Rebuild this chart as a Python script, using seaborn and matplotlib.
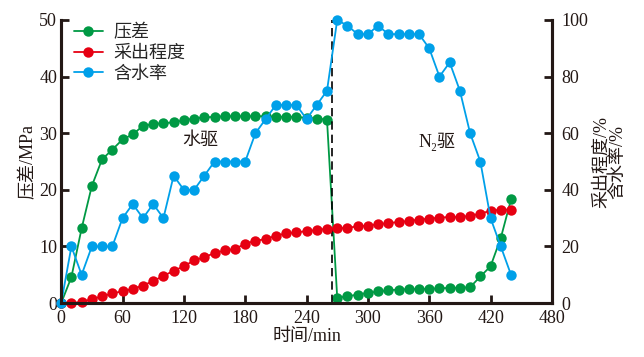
import numpy as np
import pandas as pd
import seaborn as sns
import matplotlib.pyplot as plt

# time axis (min)
time = np.arange(0, 450, 10)

# pressure difference (MPa), left axis
pressure = [0, 4.6, 13.2, 20.7, 25.4, 27.1, 28.9, 29.8, 31.3, 31.6,
            31.8, 31.9, 32.3, 32.6, 32.8, 32.9, 33.0, 33.0, 33.0, 33.0,
            33.0, 32.9, 32.9, 32.9, 32.7, 32.6, 32.4,
            0.95, 1.2, 1.5, 1.8, 2.05, 2.25, 2.4, 2.45, 2.5,
            2.5, 2.6, 2.7, 2.7, 2.8, 4.7, 6.5, 11.5, 18.3]

# recovery degree (%), right axis
recovery = [0, 0, 0.4, 1.4, 2.4, 3.4, 4.2, 5.0, 6.2, 7.8,
            9.6, 11.4, 13.0, 15.1, 16.2, 17.7, 18.6, 19.1, 21.0, 22.0,
            22.6, 23.8, 24.6, 25.0, 25.4, 25.8, 26.3,
            26.4, 26.6, 27.1, 27.4, 27.8, 28.3, 28.6, 29.0, 29.5,
            29.8, 30.2, 30.4, 30.4, 30.8, 31.6, 32.6, 33.0, 33.0]

# water cut (%), right axis
water_cut = [0, 20, 10, 20, 20, 20, 30, 35, 30, 35,
             30, 45, 40, 40, 45, 50, 50, 50, 50, 60,
             65, 70, 70, 70, 65, 70, 75,
             100, 98, 95, 95, 98, 95, 95, 95, 95,
             90, 80, 85, 75, 60, 50, 30, 20, 10]

switch_time = 265

df = pd.DataFrame({"time": time, "pressure": pressure,
                   "recovery": recovery, "water_cut": water_cut})

sns.set_style("ticks")
plt.rcParams["font.family"] = ["Liberation Serif", "DejaVu Serif", "Noto Sans CJK SC"]
plt.rcParams["axes.unicode_minus"] = False

green = "#009944"
red = "#E60012"
blue = "#00A0E9"
ink = "#231815"

fig, ax = plt.subplots(figsize=(6.44, 3.57), dpi=100)
fig.subplots_adjust(left=0.095, right=0.857, top=0.944, bottom=0.151)
ax2 = ax.twinx()

style = dict(marker="o", markersize=7.5, markeredgewidth=0, linewidth=1.3, clip_on=False)
sns.lineplot(data=df, x="time", y="pressure", color=green, ax=ax, label="压差", legend=False, **style)
sns.lineplot(data=df, x="time", y="recovery", color=red, ax=ax2, label="采出程度", legend=False, **style)
sns.lineplot(data=df, x="time", y="water_cut", color=blue, ax=ax2, label="含水率", legend=False, **style)

ax.axvline(switch_time, color="black", linestyle=(0, (5, 3)), linewidth=1.2)

ax.set_xlim(0, 480)
ax.set_ylim(0, 50)
ax2.set_ylim(0, 100)
ax.set_xticks(range(0, 481, 60))
ax.set_yticks(range(0, 51, 10))
ax2.set_yticks(range(0, 101, 20))

for a in (ax, ax2):
    a.spines["top"].set_visible(False)
    for s in ("left", "bottom", "right"):
        a.spines[s].set_linewidth(2.2)
        a.spines[s].set_color(ink)
    a.tick_params(direction="in", length=6, width=2, colors=ink, labelsize=13, pad=3)
ax.tick_params(axis="x", pad=5)
ax2.tick_params(axis="y", pad=7)

ax.set_xlabel("时间/min", fontsize=13, color=ink, labelpad=1)
ax.set_ylabel("压差/MPa", fontsize=13, color=ink, labelpad=2)
ax2.set_ylabel("采出程度/%\n含水率/%", fontsize=13, color=ink, labelpad=3, linespacing=1.0)

ax.text(136, 28.8, "水驱", fontsize=13, ha="center", va="center", color=ink)
ax.text(368, 28.4, "N\u2082驱", fontsize=13, ha="center", va="center", color=ink)

h1, l1 = ax.get_legend_handles_labels()
h2, l2 = ax2.get_legend_handles_labels()
ax2.legend(h1 + h2, l1 + l2, loc="upper left", bbox_to_anchor=(0.0, 1.03), frameon=False,
           fontsize=13, handlelength=1.6, handletextpad=0.6, labelspacing=0.2, borderaxespad=0.3)

plt.savefig("out.png", dpi=100)
plt.close()
